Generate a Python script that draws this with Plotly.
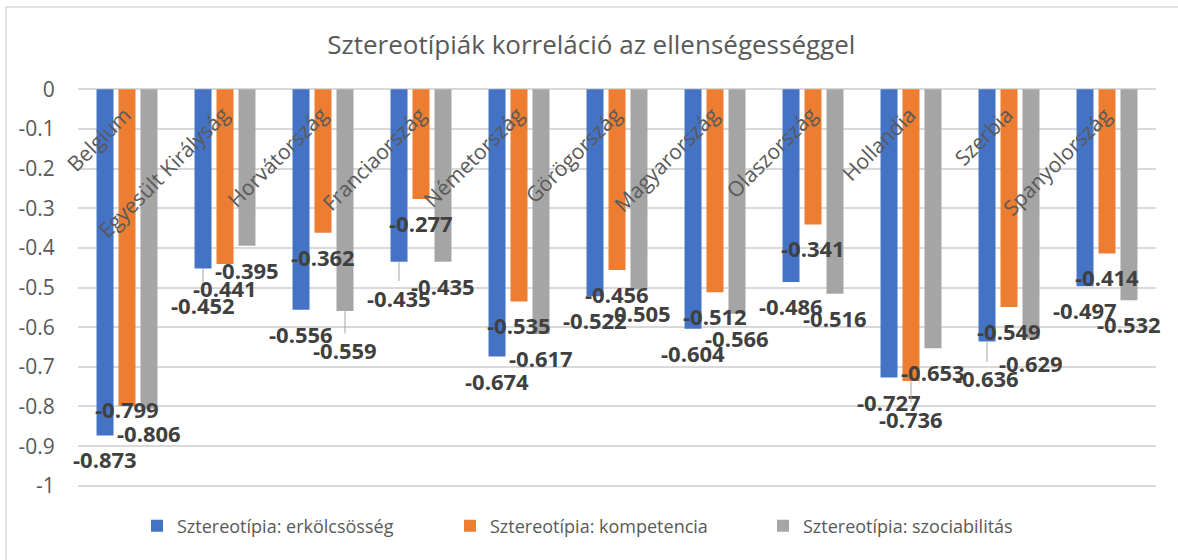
import plotly.graph_objects as go

# ---- data -------------------------------------------------------------
countries = [
    "Belgium", "Egyesült Királyság", "Horvátország", "Franciaország",
    "Németország", "Görögország", "Magyarország", "Olaszország",
    "Hollandia", "Szerbia", "Spanyolország",
]
erkolcsosseg = [-0.873, -0.452, -0.556, -0.435, -0.674, -0.522, -0.604, -0.486, -0.727, -0.636, -0.497]
kompetencia = [-0.799, -0.441, -0.362, -0.277, -0.535, -0.456, -0.512, -0.341, -0.736, -0.549, -0.414]
szociabilitas = [-0.806, -0.395, -0.559, -0.435, -0.617, -0.505, -0.566, -0.516, -0.653, -0.629, -0.532]

series_names = [
    "Sztereotípia: erkölcsösség",
    "Sztereotípia: kompetencia",
    "Sztereotípia: szociabilitás",
]
y_tick_values = [0, -0.1, -0.2, -0.3, -0.4, -0.5, -0.6, -0.7, -0.8, -0.9, -1]
y_tick_labels = ["0", "-0.1", "-0.2", "-0.3", "-0.4", "-0.5", "-0.6", "-0.7", "-0.8", "-0.9", "-1"]

title_text = "Sztereotípiák korreláció az ellenségességgel"

# ---- styling ----------------------------------------------------------
W, H = 1178, 560
ML, MR, MT, MB = 78, 22, 88, 73
FONT = "Open Sans"
TEXT_GREY = "#595959"
LABEL_DARK = "#404040"
GRID = "#D9D9D9"
colors = ["#4472C4", "#ED7D31", "#A5A5A5"]
BARGAP = 0.327
BARGROUPGAP = 0.227

# vertical distance (px) of each value label below its bar end
label_drop = [
    [24, 37, 24, 36, 24, 24, 24, 24, 24, 37, 24],
    [3, 24, 24, 24, 24, 24, 24, 24, 38, 24, 24],
    [24, 24, 39, 24, 24, 24, 24, 24, 24, 24, 24],
]
LEADER_MIN = 30  # labels pushed further than this get a leader line

all_series = [erkolcsosseg, kompetencia, szociabilitas]

fig = go.Figure()
for name, vals, col in zip(series_names, all_series, colors):
    fig.add_trace(go.Bar(
        x=countries, y=vals, name=name,
        marker=dict(color=col, line=dict(width=0)),
    ))

# pixel offsets of the three bars inside each category group
plot_w = W - ML - MR
pitch = plot_w / len(countries)
slot = pitch * (1 - BARGAP) / len(all_series)
bar_offsets = [(k - (len(all_series) - 1) / 2) * slot for k in range(len(all_series))]

annotations = []
for s, vals in enumerate(all_series):
    for i, v in enumerate(vals):
        drop = label_drop[s][i]
        common = dict(
            x=countries[i], y=v, xref="x", yref="y",
            xshift=bar_offsets[s],
            text=f"{v:.3f}",
            font=dict(family=FONT, size=22, color=LABEL_DARK, weight="bold"),
        )
        if drop > LEADER_MIN:
            annotations.append(dict(
                **common, showarrow=True, ax=0, ay=drop,
                arrowhead=0, arrowwidth=1, arrowcolor="#A5A5A5", standoff=0,
            ))
        else:
            annotations.append(dict(
                **common, showarrow=False, xanchor="center", yanchor="middle",
                yshift=-drop,
            ))

# category names, rotated, just under the zero line
for c in countries:
    annotations.append(dict(
        x=c, y=0, xref="x", yref="y", text=c, showarrow=False,
        textangle=-45, xanchor="right", yanchor="top",
        xshift=13, yshift=-9,
        font=dict(family=FONT, size=21, color=TEXT_GREY),
    ))

plot_h = H - MT - MB
fig.update_layout(
    width=W, height=H,
    margin=dict(l=ML, r=MR, t=MT, b=MB, pad=0, autoexpand=False),
    paper_bgcolor="white", plot_bgcolor="white",
    barmode="group", bargap=BARGAP, bargroupgap=BARGROUPGAP,
    font=dict(family=FONT, color=TEXT_GREY),
    title=dict(
        text=title_text, x=0.502, xref="container", xanchor="center",
        y=1 - 45 / H, yref="container", yanchor="middle",
        font=dict(family=FONT, size=26, color=TEXT_GREY),
        automargin=False,
    ),
    xaxis=dict(
        range=[-0.5, len(countries) - 0.5], automargin=False,
        showticklabels=False, showgrid=False, zeroline=False, showline=False, ticks="",
    ),
    yaxis=dict(
        range=[-1.003, 0.003], automargin=False,
        tickvals=y_tick_values, ticktext=y_tick_labels,
        showgrid=True, gridcolor=GRID, gridwidth=1.5,
        zeroline=False, showline=False,
        ticks="outside", ticklen=18, tickcolor="rgba(0,0,0,0)",
        tickfont=dict(family=FONT, size=21, color=TEXT_GREY),
    ),
    legend=dict(
        orientation="h", x=(137 - ML) / plot_w, xanchor="left",
        y=(H - MB - 526) / plot_h, yanchor="middle",
        entrywidth=268, entrywidthmode="pixels", itemwidth=30,
        font=dict(family=FONT, size=18, color=TEXT_GREY),
    ),
    annotations=annotations,
    shapes=[dict(
        type="rect", xref="paper", yref="paper",
        x0=(6 - ML) / plot_w, x1=1.3,
        y0=-0.4, y1=(H - MB - 7) / plot_h,
        line=dict(color=GRID, width=1.5), fillcolor="rgba(0,0,0,0)", layer="below",
    )],
)

fig.write_html("out.html")
